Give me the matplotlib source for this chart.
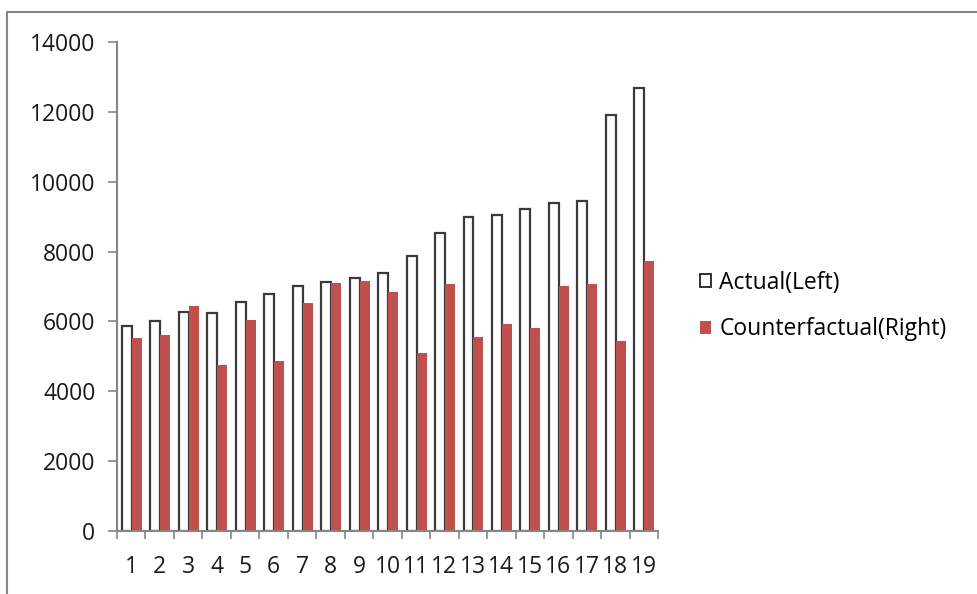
import matplotlib
matplotlib.use("Agg")
import matplotlib.pyplot as plt
from matplotlib.lines import Line2D
from matplotlib.patches import Patch
import numpy as np

categories = [str(i) for i in range(1, 20)]
actual = [5866, 6020, 6270, 6250, 6550, 6790, 7020, 7140, 7250, 7400,
          7874, 8522, 8987, 9044, 9215, 9395, 9443, 11917, 12677]
counterfactual = [5533, 5600, 6450, 4760, 6040, 4880, 6520, 7100, 7160, 6838,
                  5098, 7076, 5555, 5914, 5800, 7019, 7076, 5440, 7723]
yticks = [0, 2000, 4000, 6000, 8000, 10000, 12000, 14000]

plt.rcParams['font.family'] = ['Open Sans', 'DejaVu Sans']

fig = plt.figure(figsize=(9.77, 5.94), dpi=100)
ax = fig.add_axes([117/977, 1-531/594, (658-117)/977, (531-42)/594])

x = np.arange(1, len(categories) + 1)
w = 0.35
red = '#C0504D'
axis_grey = '#868686'

ax.bar(x - w/2 + 0.02, actual, width=w, facecolor='white', edgecolor='#3a3a3a',
       linewidth=1.6, label='Actual(Left)')
ax.bar(x + w/2 + 0.02, counterfactual, width=w, facecolor=red, edgecolor='none',
       label='Counterfactual(Right)')

ax.set_xlim(0.5, len(categories) + 0.5)
ax.set_ylim(0, 14000)
ax.set_yticks(yticks)
ax.set_yticklabels([str(v) for v in yticks])

ax.set_xticks(np.arange(0.5, len(categories) + 1, 1))
ax.set_xticklabels([])
ax.set_xticks(x, minor=True)
ax.set_xticklabels(categories, minor=True)

for s in ['top', 'right']:
    ax.spines[s].set_visible(False)
for s in ['left', 'bottom']:
    ax.spines[s].set_color(axis_grey)
    ax.spines[s].set_linewidth(1.5)

fs = 16.5
ax.tick_params(axis='y', which='major', length=6.5, width=1.2, color=axis_grey,
               pad=9, labelsize=fs, labelcolor='#1a1a1a')
ax.tick_params(axis='x', which='major', length=5.5, width=1.2, color=axis_grey,
               direction='out')
ax.tick_params(axis='x', which='minor', length=0, pad=17, labelsize=fs,
               labelcolor='#1a1a1a')

handles = [Patch(facecolor='white', edgecolor='#222222', linewidth=1.3),
           Patch(facecolor=red, edgecolor='none')]
fig.legend(handles, ['Actual(Left)', 'Counterfactual(Right)'],
           loc='center left', bbox_to_anchor=(700/977, 1-306/594),
           bbox_transform=fig.transFigure, frameon=False, fontsize=fs,
           borderpad=0, borderaxespad=0, handlelength=0.5, handleheight=0.5,
           handletextpad=0.35, labelspacing=1.0)

# chart area border (top and left visible)
fig.add_artist(Line2D([7/977, 7/977], [0, 1-12/594], transform=fig.transFigure,
                      color=axis_grey, linewidth=1.5))
fig.add_artist(Line2D([7/977, 1], [1-12/594, 1-12/594], transform=fig.transFigure,
                      color=axis_grey, linewidth=1.5))

fig.savefig('out.png', dpi=100)
